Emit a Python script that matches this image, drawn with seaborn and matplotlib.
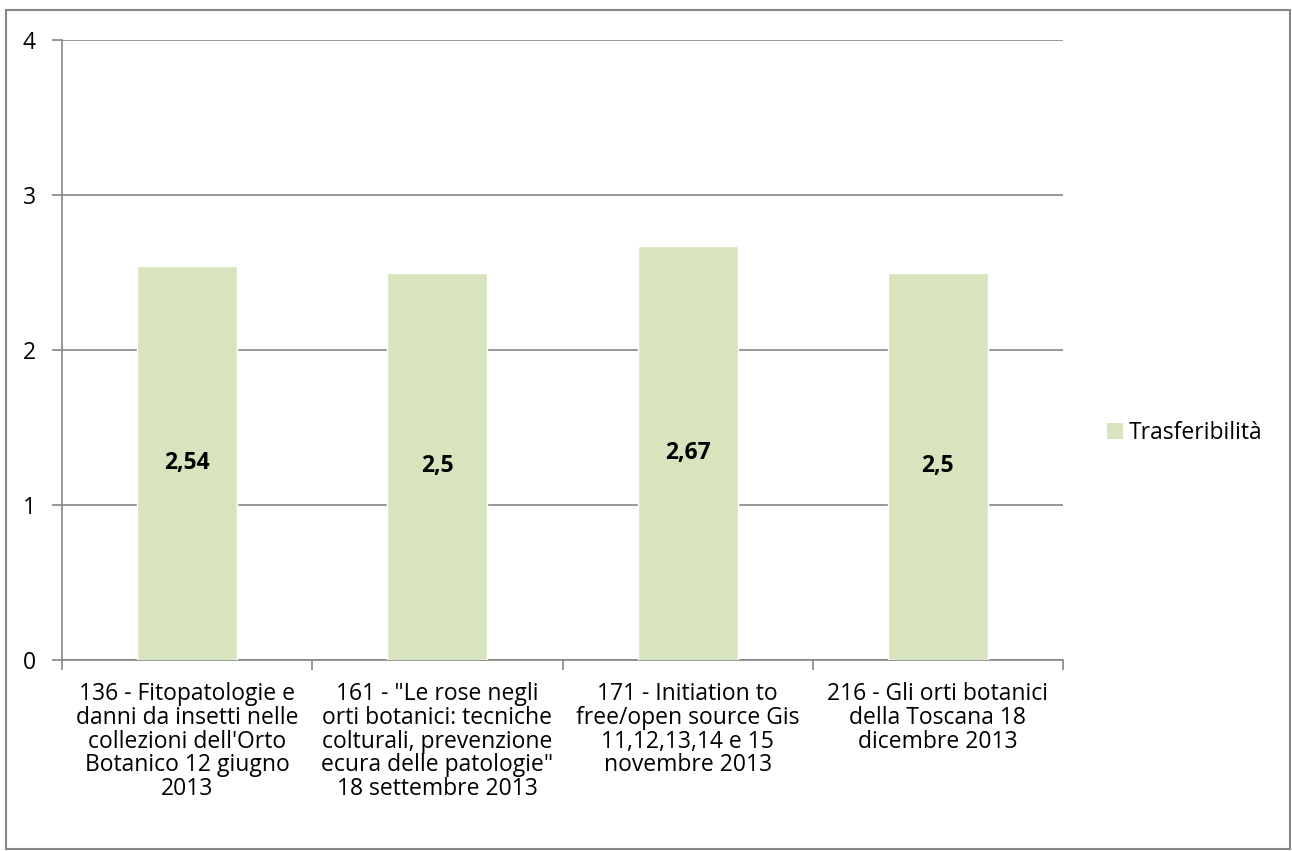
import matplotlib
matplotlib.use('Agg')
import matplotlib.pyplot as plt
import pandas as pd
import seaborn as sns
from matplotlib.patches import Patch, Rectangle

# data
categories = [
    "136 - Fitopatologie e\ndanni da insetti nelle\ncollezioni dell'Orto\nBotanico 12 giugno\n2013",
    "161 - \"Le rose negli\norti botanici: tecniche\ncolturali, prevenzione\necura delle patologie\"\n18 settembre 2013",
    "171 - Initiation to\nfree/open source Gis\n11,12,13,14 e 15\nnovembre 2013",
    "216 - Gli orti botanici\ndella Toscana 18\ndicembre 2013",
]
values = [2.54, 2.5, 2.67, 2.5]
value_labels = ["2,54", "2,5", "2,67", "2,5"]
series_name = "Trasferibilità"

bar_color = "#D7E4BD"
grey = "#868686"
fs = 16.5

sns.set_style("white")
plt.rcParams['font.family'] = ['Open Sans', 'DejaVu Sans']
plt.rcParams['text.color'] = 'black'
plt.rcParams['xtick.labelcolor'] = 'black'
plt.rcParams['ytick.labelcolor'] = 'black'

df = pd.DataFrame({"cat": categories, "val": values})

fig = plt.figure(figsize=(12.92, 8.51), dpi=100)
ax = fig.add_axes([62 / 1292, 191 / 851, 1001 / 1292, 620 / 851])

sns.barplot(data=df, x="cat", y="val", color=bar_color, width=0.4,
            saturation=1, ax=ax, zorder=3)

ax.set_ylim(0, 4)
ax.set_xlim(-0.5, len(categories) - 0.5)
ax.set_yticks([0, 1, 2, 3, 4])
ax.set_yticklabels(["0", "1", "2", "3", "4"], fontsize=fs)
ax.yaxis.grid(True, color=grey, linewidth=1.2, zorder=0)
ax.set_axisbelow(True)

# category labels on minor ticks, boundary tick marks on major ticks
ax.set_xticks([i - 0.5 for i in range(len(categories) + 1)])
ax.set_xticklabels([])
ax.set_xticks(range(len(categories)), minor=True)
ax.set_xticklabels(categories, minor=True, fontsize=fs, linespacing=0.98)
ax.tick_params(axis='x', which='major', length=7, width=1.2, color=grey, direction='out', bottom=True)
ax.tick_params(axis='x', which='minor', length=0, pad=16)
ax.tick_params(axis='y', length=7, width=1.2, color=grey, direction='out', left=True, pad=12)

ax.set_xlabel("")
ax.set_ylabel("")

for side in ['top', 'right']:
    ax.spines[side].set_visible(False)
for side in ['left', 'bottom']:
    ax.spines[side].set_color(grey)
    ax.spines[side].set_linewidth(1.2)

# value labels in the middle of the bars
for i, (v, lab) in enumerate(zip(values, value_labels)):
    ax.text(i, v / 2, lab, ha='center', va='center', fontsize=fs, fontweight='bold', zorder=4)

fig.legend(handles=[Patch(facecolor=bar_color, edgecolor='none', label=series_name)],
           loc='center left', bbox_to_anchor=(1086 / 1292, 1 - 433 / 851),
           frameon=False, fontsize=fs, handlelength=0.7, handleheight=0.7, handletextpad=0.25)

# outer chart border
fig.patches.append(Rectangle((6 / 1292, 0.002), 1284 / 1292, 1 - 10 / 851 - 0.002,
                             transform=fig.transFigure, fill=False,
                             edgecolor=grey, linewidth=1.5))

fig.savefig("out.png", dpi=100)
